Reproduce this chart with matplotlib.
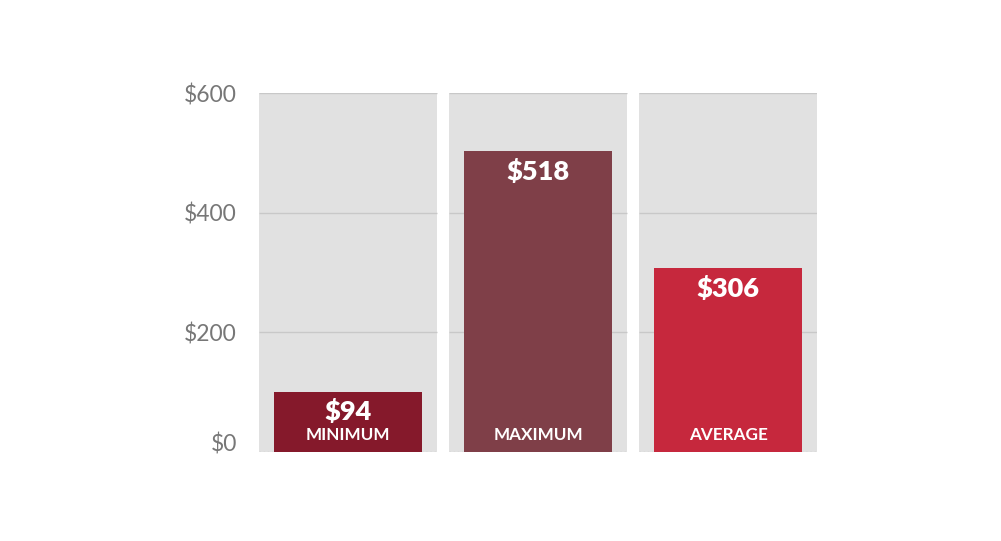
import matplotlib.pyplot as plt

# data
categories = ['MINIMUM', 'MAXIMUM', 'AVERAGE']
labels = ['$94', '$518', '$306']
heights = [101, 503, 307]
bar_colors = ['#85192b', '#7f3f48', '#c6283d']
yticks = [0, 200, 400, 600]
ytick_labels = ['$0', '$200', '$400', '$600']

plt.rcParams['font.family'] = ['Lato', 'DejaVu Sans']

fig = plt.figure(figsize=(10.01, 5.41), dpi=100)
W, H = 1001, 541
# axes in pixel terms: left 259, right 817, top 93, bottom 452
ax = fig.add_axes([259 / W, 1 - 452 / H, (817 - 259) / W, (452 - 93) / H])

x = range(len(categories))
panel_w = 0.934
bar_w = 0.78

# grey panels behind each bar
ax.bar(x, [600] * 3, width=panel_w, color='#e1e1e1', zorder=0)
for xi in x:
    ax.hlines([200, 400, 600], xi - panel_w / 2, xi + panel_w / 2,
              color='#c8c8c8', linewidth=1, zorder=1)
    ax.hlines(0, xi - panel_w / 2, xi + panel_w / 2, color='#c4c4c4',
              linewidth=1, linestyles=(0, (1, 2)), zorder=1)

ax.bar(x, heights, width=bar_w, color=bar_colors, zorder=2)

for xi, h, lab, cat in zip(x, heights, labels, categories):
    ax.annotate(lab, (xi, h), xytext=(0, -5.5), textcoords='offset points',
                ha='center', va='top', color='white', fontsize=19.5,
                fontweight='heavy', zorder=3)
    ax.annotate(cat, (xi, 0), xytext=(0, 9), textcoords='offset points',
                ha='center', va='baseline', color='white', fontsize=12.3,
                fontweight='bold', zorder=3)

ax.set_xlim(-panel_w / 2, 2 + panel_w / 2)
ax.set_ylim(0, 600)
ax.set_xticks([])
ax.set_yticks(yticks)
ax.set_yticklabels(ytick_labels, fontsize=16.5, color='#777777')
ax.tick_params(axis='y', length=0, pad=16)
ax.get_yticklabels()[0].set_va('baseline')
for s in ax.spines.values():
    s.set_visible(False)

fig.savefig('out.png', dpi=100)
